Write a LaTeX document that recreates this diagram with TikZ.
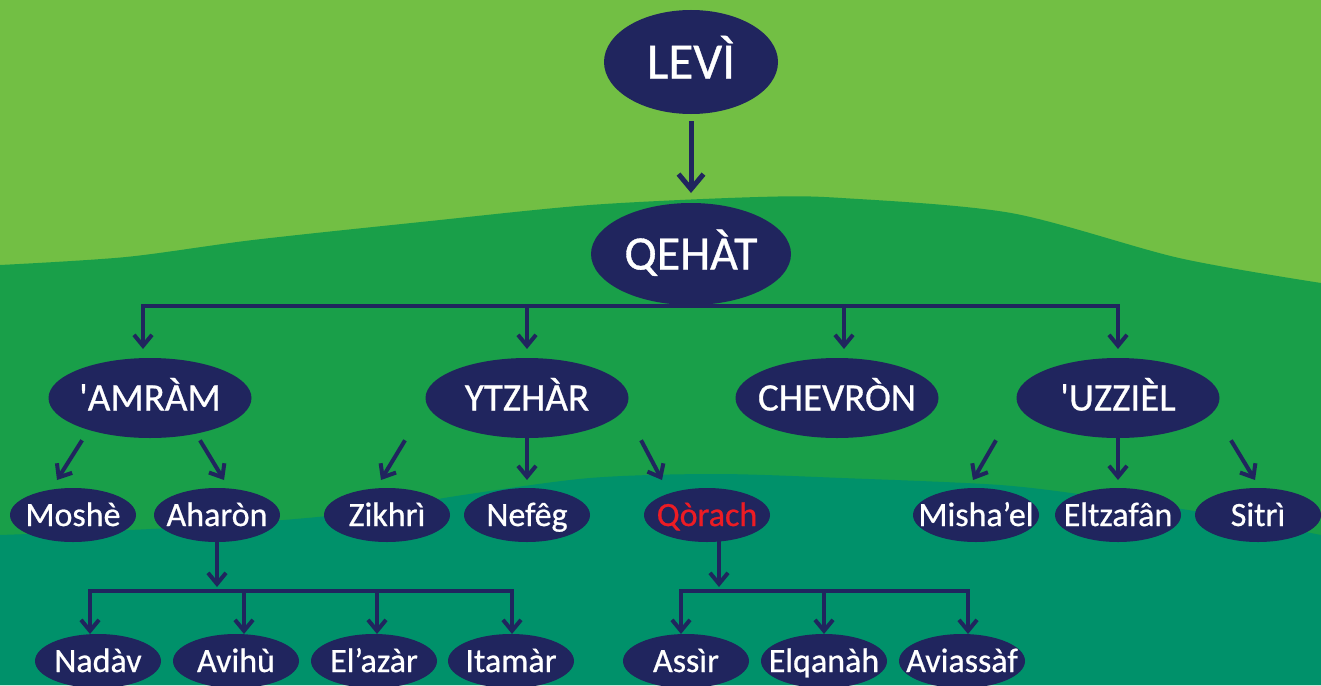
\documentclass[tikz,border=0pt]{standalone}
\usepackage{fontspec}
\setmainfont{Carlito}[FakeBold=0.7]
\usetikzlibrary{shapes.geometric,arrows.meta}
\definecolor{navy}{HTML}{20255E}
\definecolor{hillA}{HTML}{72BF44}
\definecolor{hillB}{HTML}{199F49}
\definecolor{hillC}{HTML}{00916A}
\definecolor{qred}{HTML}{ED1C24}
\newcommand\nm[1]{\makebox[0pt]{#1}}

\begin{document}
\begin{tikzpicture}[x=1pt, y=-1pt,
  gen/.style={ellipse, fill=navy, text=white, inner sep=0pt, outer sep=0pt,
              text depth=0pt},
  gentop/.style={gen, minimum width=200pt, minimum height=102pt,
                 text height=31pt, font=\fontsize{48}{50}\selectfont},
  genmid/.style={gen, minimum width=203pt, minimum height=80pt,
                 text height=25pt, font=\fontsize{39}{41}\selectfont},
  genlow/.style={gen, minimum width=126pt, minimum height=54pt,
                 text height=22pt, font=\fontsize{34}{36}\selectfont},
  link/.style={draw=navy, line width=4pt, line cap=rect},
  arr/.style={link, -{Straight Barb[length=11pt,width=18pt]}},
  bigarr/.style={draw=navy, line width=5pt, -{Straight Barb[length=15pt,width=25pt]}}
]
  \useasboundingbox (0,0) rectangle (1321,685);

  \fill[hillA] (0,0) rectangle (1321,685);
  \fill[hillB] plot[smooth] coordinates {(0,265) (126,257) (253,240) (421,222)
     (590,205) (758,197) (842,198) (1011,213) (1179,258) (1321,283)}
     -- (1321,685) -- (0,685) -- cycle;
  \fill[hillC] plot[smooth] coordinates {(0,535) (170,528) (337,515) (463,495)
     (590,478) (716,474) (842,478) (1000,485) (1100,497) (1200,512) (1321,535)}
     -- (1321,685) -- (0,685) -- cycle;

  \node[gentop, minimum width=174pt, minimum height=104pt, text height=33pt,
        font=\fontsize{51}{53}\selectfont] (levi) at (691,62) {\nm{LEVÌ}};
  \node[gentop] (qehat) at (691,254) {\nm{QEHÀT}};

  \node[genmid] (amram)   at (150,398)  {\nm{\textquotesingle AMRÀM}};
  \node[genmid] (ytzhar)  at (527,398)  {\nm{YTZHÀR}};
  \node[genmid] (chevron) at (837,398)  {\nm{CHEVRÒN}};
  \node[genmid] (uzziel)  at (1118,398) {\nm{\textquotesingle UZZIÈL}};

  \node[genlow] (moshe)    at (73,515)   {\nm{Moshè}};
  \node[genlow] (aharon)   at (217,515)  {\nm{Aharòn}};
  \node[genlow] (zikhri)   at (387,515)  {\nm{Zikhrì}};
  \node[genlow] (nefeg)    at (527,515)  {\nm{Nefêg}};
  \node[genlow, text=qred] (qorach) at (707,515) {\nm{Qòrach}};
  \node[genlow] (mishael)  at (976,515)  {\nm{Misha’el}};
  \node[genlow] (eltzafan) at (1118,515) {\nm{Eltzafân}};
  \node[genlow] (sitri)    at (1258,515) {\nm{Sitrì}};

  \node[genlow] (nadav)    at (98,661)  {\nm{Nadàv}};
  \node[genlow] (avihu)    at (236,661) {\nm{Avihù}};
  \node[genlow] (elazar)   at (374,661) {\nm{El’azàr}};
  \node[genlow] (itamar)   at (511,661) {\nm{Itamàr}};
  \node[genlow] (assir)    at (686,661) {\nm{Assìr}};
  \node[genlow] (elqanah)  at (824,661) {\nm{Elqanàh}};
  \node[genlow] (aviassaf) at (962,661) {\nm{Aviassàf}};

  \draw[bigarr, shorten <=7pt, shorten >=10pt] (levi) -- (qehat);

  \coordinate (k1) at (143,306);
  \coordinate (k2) at (527,306);
  \coordinate (k3) at (844,306);
  \coordinate (k4) at (1118,306);
  \draw[link] (k1) -- (k4);
  \draw[arr, shorten >=9pt] (k1) -- (k1 |- amram.north);
  \draw[arr, shorten >=9pt] (k2) -- (k2 |- ytzhar.north);
  \draw[arr, shorten >=9pt] (k3) -- (k3 |- chevron.north);
  \draw[arr, shorten >=9pt] (k4) -- (k4 |- uzziel.north);

  \draw[arr] ([xshift=-69pt,yshift=-4pt]amram.south) -- ([xshift=-16pt,yshift=8pt]moshe.north);
  \draw[arr] ([xshift=51pt,yshift=-4pt]amram.south) -- ([xshift=7pt,yshift=8pt]aharon.north);
  \draw[arr] ([xshift=-123pt,yshift=-4pt]ytzhar.south) -- ([xshift=-6pt,yshift=8pt]zikhri.north);
  \draw[arr] (ytzhar.south) -- ([yshift=8pt]nefeg.north);
  \draw[arr] ([xshift=115pt,yshift=-4pt]ytzhar.south) -- ([xshift=-45pt,yshift=8pt]qorach.north);
  \draw[arr] ([xshift=-123pt,yshift=-4pt]uzziel.south) -- ([xshift=-3pt,yshift=8pt]mishael.north);
  \draw[arr] (uzziel.south) -- ([yshift=8pt]eltzafan.north);
  \draw[arr] ([xshift=114pt,yshift=-4pt]uzziel.south) -- ([xshift=-3pt,yshift=8pt]sitri.north);

  \coordinate (s1) at (217,587);
  \draw[arr] (aharon.south) -- (s1);
  \coordinate (a1) at (90,591);
  \coordinate (a2) at (244,591);
  \coordinate (a3) at (377,591);
  \coordinate (a4) at (512,591);
  \draw[link] (a1) -- (a4);
  \draw[arr] (a1) -- (a1 |- nadav.north);
  \draw[arr] (a2) -- (a2 |- avihu.north);
  \draw[arr] (a3) -- (a3 |- elazar.north);
  \draw[arr] (a4) -- (a4 |- itamar.north);

  \coordinate (s2) at (719,587);
  \draw[arr] ([xshift=12pt]qorach.south) -- (s2);
  \coordinate (b1) at (681,591);
  \coordinate (b2) at (824,591);
  \coordinate (b3) at (968,591);
  \draw[link] (b1) -- (b3);
  \draw[arr] (b1) -- (b1 |- assir.north);
  \draw[arr] (b2) -- (b2 |- elqanah.north);
  \draw[arr] (b3) -- (b3 |- aviassaf.north);
\end{tikzpicture}
\end{document}
